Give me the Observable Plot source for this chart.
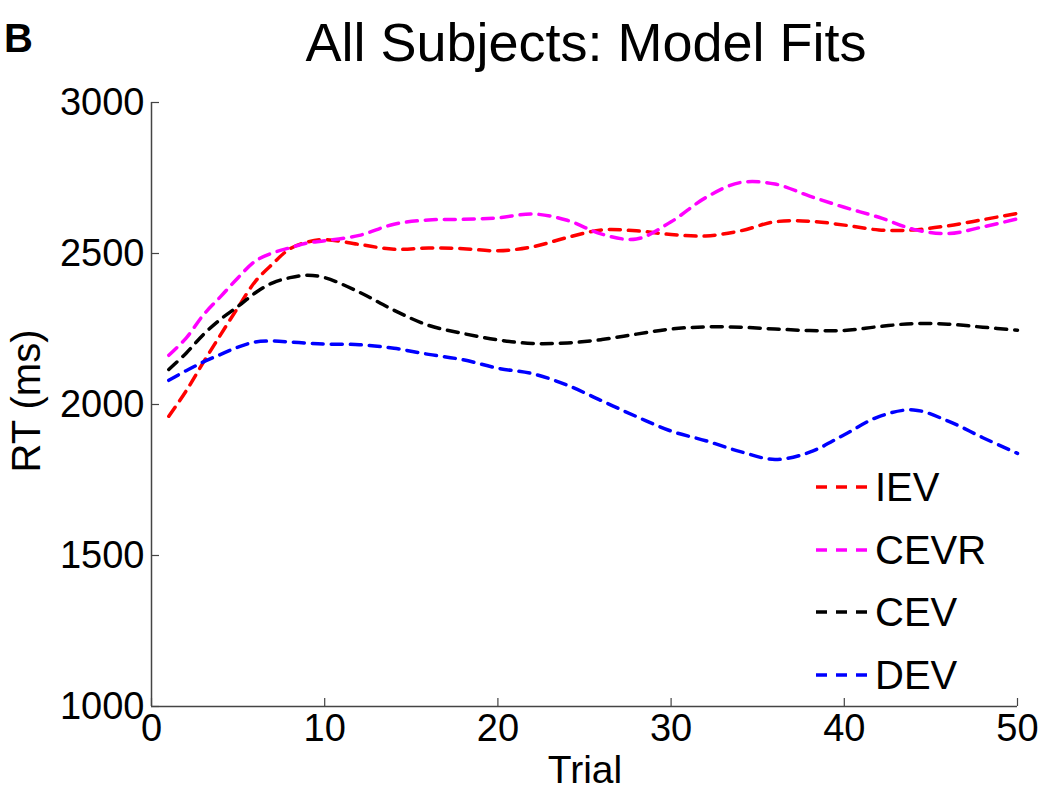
<!DOCTYPE html>
<html>
<head>
<meta charset="utf-8">
<script src="https://cdn.jsdelivr.net/npm/d3@7"></script>
<script src="https://cdn.jsdelivr.net/npm/@observablehq/plot@0.6"></script>
<style>
  html, body { margin: 0; padding: 0; background: #fff; }
  #wrap { position: relative; width: 1050px; height: 798px; font-family: "Liberation Sans", Arial, Helvetica, sans-serif; color: #000; }
  #wrap > svg { position: absolute; left: 0; top: 0; }
  .abs { position: absolute; white-space: nowrap; line-height: 1; }
  #panel { left: 4px; top: 18px; font-size: 40px; font-weight: bold; }
  #title { left: 586px; top: 15px; transform: translateX(-50%); font-size: 54px; }
  #xlabel { left: 585px; top: 750px; transform: translateX(-50%); font-size: 39px; }
  #ylabel { left: 26px; top: 401px; transform: translate(-50%, -50%) rotate(-90deg); font-size: 40px; }
  #legend { left: 814px; top: 456px; }
  .lrow { display: flex; align-items: center; height: 62.5px; font-size: 40px; }
  .lrow svg { display: block; margin-right: 6px; }
</style>
</head>
<body>
<div id="wrap">
  <div id="panel" class="abs">B</div>
  <div id="title" class="abs">All Subjects: Model Fits</div>
  <div id="xlabel" class="abs">Trial</div>
  <div id="ylabel" class="abs">RT (ms)</div>
  <div id="legend" class="abs"></div>
</div>
<script>
// ---- data ----
const trials = [1,2,3,4,5,6,7,8,9,10,12,14,16,18,20,22,24,26,28,30,32,34,36,38,40,42,44,46,48,50];
const iev  = [1961,2045,2140,2232,2322,2408,2466,2516,2538,2546,2530,2514,2518,2516,2509,2522,2553,2578,2575,2563,2558,2575,2605,2607,2594,2578,2578,2592,2612,2633];
const cevr = [2163,2220,2297,2358,2420,2475,2502,2519,2535,2542,2560,2597,2611,2613,2618,2631,2610,2564,2548,2605,2685,2735,2730,2690,2653,2620,2580,2566,2588,2615];
const cev  = [2116,2170,2232,2283,2325,2370,2403,2420,2428,2420,2372,2312,2262,2235,2214,2202,2204,2215,2233,2250,2257,2256,2250,2245,2245,2258,2268,2266,2256,2246];
const dev  = [2080,2112,2141,2166,2190,2207,2210,2207,2203,2200,2198,2186,2166,2148,2120,2102,2064,2012,1960,1912,1880,1844,1818,1842,1900,1960,1982,1945,1890,1838];
const seriesNames = ["IEV", "CEVR", "CEV", "DEV"];
const seriesColors = ["#ff0000", "#ff00ff", "#000000", "#0000ff"];
const xTicks = [0,10,20,30,40,50];
const yTicks = [1000,1500,2000,2500,3000];

const seriesValues = [iev, cevr, cev, dev];
const rows = seriesNames.flatMap((name, i) =>
  trials.map((t, j) => ({series: name, trial: t, rt: seriesValues[i][j]})));

const W = 1050, H = 798;
const mL = 151, mR = 33, mT = 102, mB = 92;
const pw = W - mL - mR, ph = H - mT - mB;

const chart = Plot.plot({
  width: W, height: H,
  marginLeft: mL, marginRight: mR, marginTop: mT, marginBottom: mB,
  style: {fontSize: "38px", fontFamily: "'Liberation Sans', Arial, Helvetica, sans-serif", background: "transparent", color: "#000"},
  x: {domain: [0, 50]},
  y: {domain: [1000, 3000]},
  color: {domain: seriesNames, range: seriesColors},
  marks: [
    Plot.axisX(xTicks, {tickSize: 0, tickPadding: 8, label: null, fill: "#000", tickFormat: d => String(d)}),
    Plot.axisY(yTicks, {tickSize: 0, tickPadding: 7, label: null, fill: "#000", tickFormat: d => String(d)}),
    Plot.tickX(xTicks, {x: d => d, insetTop: ph - 8, stroke: "#444", strokeWidth: 1.2}),
    Plot.tickY(yTicks, {y: d => d, insetRight: pw - 8, stroke: "#444", strokeWidth: 1.2}),
    Plot.ruleX([0], {stroke: "#444", strokeWidth: 1.5}),
    Plot.ruleY([1000], {stroke: "#444", strokeWidth: 1.5}),
    Plot.line(rows, {x: "trial", y: "rt", z: "series", stroke: "series",
      strokeWidth: 3.5, strokeDasharray: "11,8", curve: "catmull-rom"})
  ]
});
document.getElementById("wrap").appendChild(chart);

// legend
const leg = document.getElementById("legend");
seriesNames.forEach((name, i) => {
  const row = document.createElement("div");
  row.className = "lrow";
  row.innerHTML = `<svg width="55" height="10"><line x1="2" y1="5" x2="55" y2="5" stroke="${seriesColors[i]}" stroke-width="3.5" stroke-dasharray="11,9"/></svg><span>${name}</span>`;
  leg.appendChild(row);
});
</script>
</body>
</html>
